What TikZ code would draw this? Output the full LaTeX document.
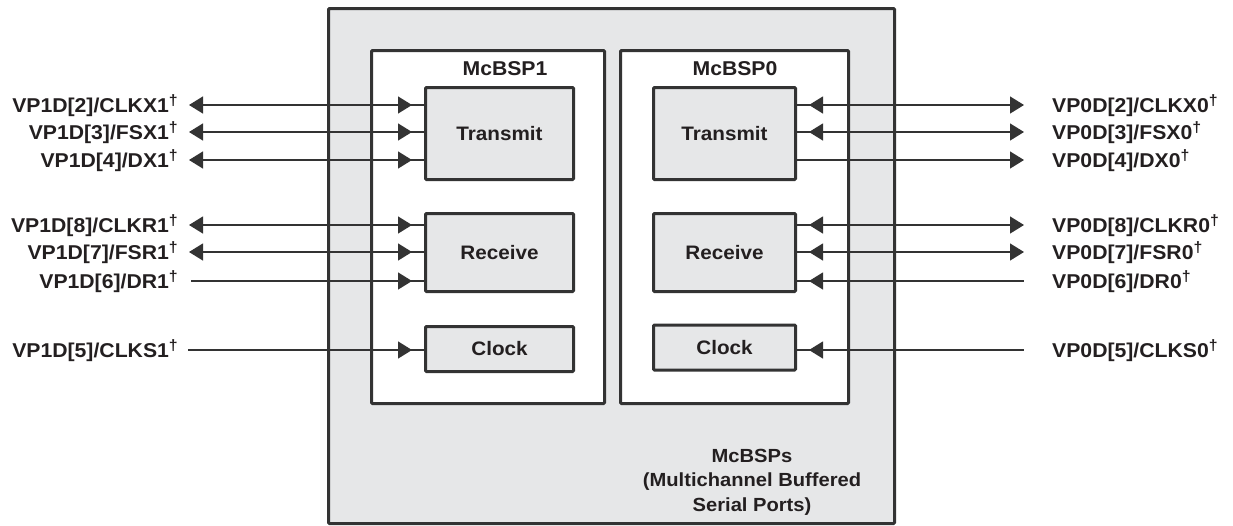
\documentclass[tikz,border=0pt]{standalone}
\usepackage{fontspec}
\setmainfont{Liberation Sans}[FakeStretch=1.06]
\usetikzlibrary{arrows.meta,decorations.markings}
\definecolor{boxgray}{HTML}{E6E7E8}
\definecolor{ink}{HTML}{333333}
\definecolor{txt}{HTML}{231F20}
\newcommand{\dg}{\raisebox{6.5pt}{\fontsize{15}{15}\selectfont\bfseries †}}
\tikzset{
  tipA/.tip={Triangle[length=14pt,width=17pt]},
  frame/.style={draw=ink, line width=3pt, rounded corners=1pt, inner sep=0pt},
  outerbox/.style={frame, fill=boxgray, minimum width=566pt, minimum height=515pt},
  unitbox/.style={frame, fill=white, minimum height=353pt},
  partbox/.style={frame, fill=boxgray, text=txt, font=\fontsize{19.5}{22}\selectfont\bfseries},
  lbl/.style={text=txt, inner sep=0pt, font=\fontsize{20}{24}\selectfont\bfseries},
  ttl/.style={text=txt, inner sep=0pt, font=\fontsize{20}{24}\selectfont\bfseries},
  sig/.style={draw=ink, line width=1.3pt},
  nearL/.style={postaction={decorate}, decoration={markings, mark=at position -12pt with {\arrow[ink]{tipA}}}},
  nearR/.style={postaction={decorate}, decoration={markings, mark=at position 12pt with {\arrowreversed[ink]{tipA}}}},
}
\begin{document}
\begin{tikzpicture}[x=1pt,y=-1pt]
\useasboundingbox (0,0) rectangle (1233,525);
% boxes
\node[outerbox] (outer) at (611.5,266) {};
\node[unitbox, minimum width=233pt] (u1) at (488,227) {};
\node[unitbox, minimum width=228pt] (u0) at (734.5,227) {};
\node[ttl] (t1) at (505,69) {McBSP1};
\node[ttl] (t0) at (735,69) {McBSP0};
\node[partbox, minimum width=148pt, minimum height=92pt] (T1) at (499.5,133.5) {Transmit};
\node[partbox, minimum width=148pt, minimum height=78pt] (R1) at (499.5,252.5) {Receive};
\node[partbox, minimum width=148pt, minimum height=45pt] (C1) at (499.5,349) {Clock};
\node[partbox, minimum width=142pt, minimum height=92pt] (T0) at (724.5,133.5) {Transmit};
\node[partbox, minimum width=142pt, minimum height=78pt] (R0) at (724.5,252.5) {Receive};
\node[partbox, minimum width=142pt, minimum height=45pt] (C0) at (724.5,347.5) {Clock};
\node[ttl, align=center, font=\fontsize{19}{24.5}\selectfont\bfseries] (cap) at (752,482)
  {McBSPs\\(Multichannel Buffered\\Serial Ports)};
% left labels
\node[lbl, anchor=base east] (l1) at (178,112) {VP1D[2]/CLKX1\dg};
\node[lbl, anchor=base east] (l2) at (178,139) {VP1D[3]/FSX1\dg};
\node[lbl, anchor=base east] (l3) at (178,167) {VP1D[4]/DX1\dg};
\node[lbl, anchor=base east] (l4) at (178,232) {VP1D[8]/CLKR1\dg};
\node[lbl, anchor=base east] (l5) at (178,259) {VP1D[7]/FSR1\dg};
\node[lbl, anchor=base east] (l6) at (178,288) {VP1D[6]/DR1\dg};
\node[lbl, anchor=base east] (l7) at (178,357) {VP1D[5]/CLKS1\dg};
% right labels
\node[lbl, anchor=base west] (r1) at (1052,112) {VP0D[2]/CLKX0\dg};
\node[lbl, anchor=base west] (r2) at (1052,139) {VP0D[3]/FSX0\dg};
\node[lbl, anchor=base west] (r3) at (1052,167) {VP0D[4]/DX0\dg};
\node[lbl, anchor=base west] (r4) at (1052,232) {VP0D[8]/CLKR0\dg};
\node[lbl, anchor=base west] (r5) at (1052,259) {VP0D[7]/FSR0\dg};
\node[lbl, anchor=base west] (r6) at (1052,288) {VP0D[6]/DR0\dg};
\node[lbl, anchor=base west] (r7) at (1052,357) {VP0D[5]/CLKS0\dg};
% connector ends
\coordinate (a1) at (189,105);
\coordinate (a2) at (189,132);
\coordinate (a3) at (189,160);
\coordinate (a4) at (189,225);
\coordinate (a5) at (189,252);
\coordinate (a6) at (191,281);
\coordinate (a7) at (188,350);
\coordinate (b1) at (1024,105);
\coordinate (b2) at (1024,132);
\coordinate (b3) at (1024,160);
\coordinate (b4) at (1024,225);
\coordinate (b5) at (1024,252);
\coordinate (b6) at (1024,281);
\coordinate (b7) at (1024,350);
% left connectors
\draw[sig, {tipA}-, nearL] (a1) -- (T1.west |- a1);
\draw[sig, {tipA}-, nearL] (a2) -- (T1.west |- a2);
\draw[sig, {tipA}-, nearL] (a3) -- (T1.west |- a3);
\draw[sig, {tipA}-, nearL] (a4) -- (R1.west |- a4);
\draw[sig, {tipA}-, nearL] (a5) -- (R1.west |- a5);
\draw[sig, nearL] (a6) -- (R1.west |- a6);
\draw[sig, nearL] (a7) -- (C1.west |- a7);
% right connectors
\draw[sig, -{tipA}, nearR] (T0.east |- b1) -- (b1);
\draw[sig, -{tipA}, nearR] (T0.east |- b2) -- (b2);
\draw[sig, -{tipA}] (T0.east |- b3) -- (b3);
\draw[sig, -{tipA}, nearR] (R0.east |- b4) -- (b4);
\draw[sig, -{tipA}, nearR] (R0.east |- b5) -- (b5);
\draw[sig, nearR] (R0.east |- b6) -- (b6);
\draw[sig, nearR] (C0.east |- b7) -- (b7);
\end{tikzpicture}
\end{document}
